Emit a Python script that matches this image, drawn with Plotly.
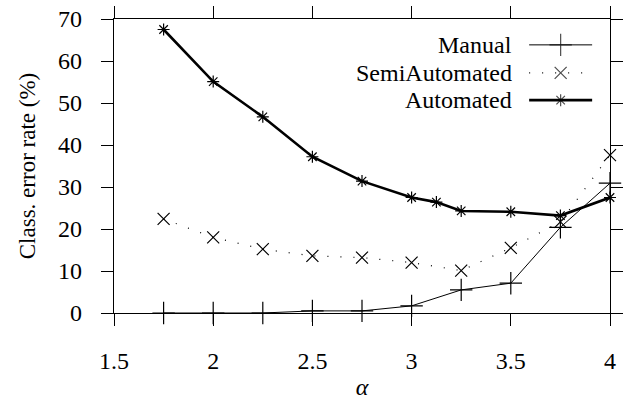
import plotly.graph_objects as go

alpha = [1.75, 2.0, 2.25, 2.5, 2.75, 3.0, 3.25, 3.5, 3.75, 4.0]
manual = [0.0, 0.0, 0.0, 0.5, 0.5, 1.7, 5.5, 7.1, 20.4, 30.9]
semi = [22.4, 18.0, 15.2, 13.6, 13.2, 12.0, 10.1, 15.5, 21.7, 37.6]
alpha_auto = [1.75, 2.0, 2.25, 2.5, 2.75, 3.0, 3.125, 3.25, 3.5, 3.75, 4.0]
automated = [67.5, 55.1, 46.7, 37.2, 31.4, 27.5, 26.4, 24.3, 24.1, 23.2, 27.5]

series_names = ["Manual", "SemiAutomated", "Automated"]
x_ticks = [1.5, 2, 2.5, 3, 3.5, 4]
x_tick_text = ["1.5", "2", "2.5", "3", "3.5", "4"]
y_ticks = [0, 10, 20, 30, 40, 50, 60, 70]

FONT = "'Liberation Serif', 'Times New Roman', 'DejaVu Serif', serif"
FS = 24

styles = [
    dict(line=dict(color="black", width=1), marker=dict(symbol="cross-thin-open", size=16, line=dict(color="black", width=1.2))),
    dict(line=dict(color="black", width=1.2, dash="1px,12px"), marker=dict(symbol="x-thin-open", size=12, line=dict(color="black", width=1.2))),
    dict(line=dict(color="black", width=2.6), marker=dict(symbol="asterisk-open", size=10, line=dict(color="black", width=1.2))),
]

fig = go.Figure()
for xs, ys, st in [(alpha, manual, styles[0]), (alpha, semi, styles[1]), (alpha_auto, automated, styles[2])]:
    fig.add_trace(go.Scatter(x=xs, y=ys, mode="lines+markers", line=st["line"], marker=st["marker"],
                             showlegend=False, cliponaxis=False))

# custom gnuplot-style legend (text left, sample right)
leg_rows = [0.912, 0.817, 0.724]
leg_x0, leg_x1, leg_text_x = 0.837, 0.964, 0.806
for name, row, st in zip(series_names, leg_rows, styles):
    fig.add_trace(go.Scatter(x=[leg_x0, (leg_x0 + leg_x1) / 2, leg_x1], y=[row, row, row],
                             xaxis="x2", yaxis="y2", mode="lines+markers",
                             line=st["line"],
                             marker=dict(symbol=st["marker"]["symbol"], size=[0, st["marker"]["size"], 0],
                                         line=st["marker"]["line"]),
                             showlegend=False, hoverinfo="skip"))
    fig.add_annotation(x=leg_text_x, y=row, xref="paper", yref="paper", text=name, showarrow=False,
                       xanchor="right", yanchor="middle", font=dict(family=FONT, size=FS, color="black"))

axis_common = dict(showgrid=False, zeroline=False, showline=True, linecolor="black", linewidth=1.2,
                   mirror="ticks", ticks="outside", ticklen=12, tickwidth=1, tickcolor="black",
                   automargin=False,
                   tickfont=dict(family=FONT, size=FS, color="black"))

fig.update_layout(
    width=631, height=400,
    margin=dict(l=114, r=21, t=19, b=87),
    plot_bgcolor="white", paper_bgcolor="white",
    showlegend=False,
    font=dict(family=FONT, size=FS, color="black"),
    xaxis=dict(range=[1.5, 4], tickvals=x_ticks, ticktext=x_tick_text, ticklabelstandoff=14,
               title=dict(text="<i>α</i>", font=dict(family=FONT, size=FS, color="black"), standoff=10),
               **axis_common),
    yaxis=dict(range=[0, 70], tickvals=y_ticks, ticklabelstandoff=14,
               title=dict(text="Class. error rate (%)", font=dict(family=FONT, size=FS - 1, color="black"), standoff=16),
               **axis_common),
    xaxis2=dict(range=[0, 1], overlaying="x", visible=False, fixedrange=True),
    yaxis2=dict(range=[0, 1], overlaying="y", visible=False, fixedrange=True),
)

fig.write_html("out.html", config={"displayModeBar": False},
               post_script="document.body.style.margin='0';document.body.style.overflow='hidden';")
